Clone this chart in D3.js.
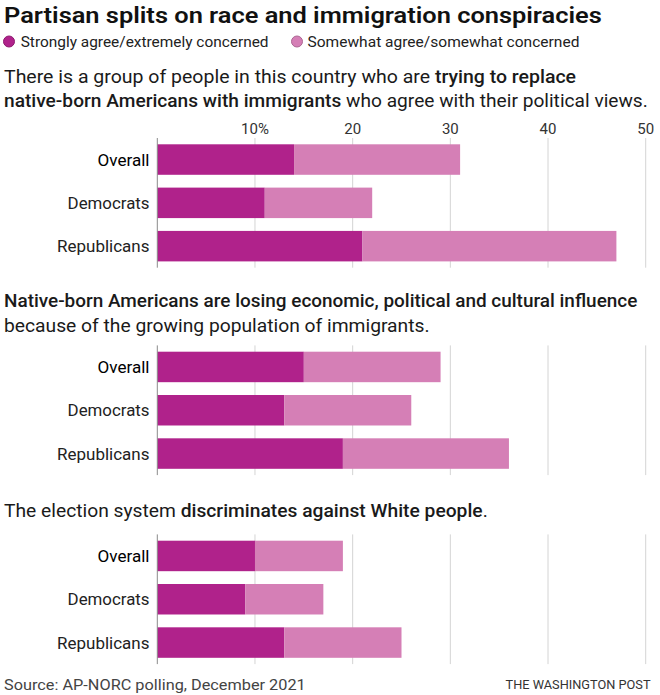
<!DOCTYPE html>
<html>
<head>
<meta charset="utf-8">
<script src="https://cdn.jsdelivr.net/npm/d3@7"></script>
<style>
  html, body { margin: 0; padding: 0; background: #fff; }
  svg text { font-family: Roboto, "Liberation Sans", "Noto Sans", sans-serif; }
</style>
</head>
<body>
<svg id="chart" width="660" height="695"></svg>
<script>
// ---------- data ----------
const categories = ["Overall", "Democrats", "Republicans"];
const seriesNames = ["Strongly agree/extremely concerned", "Somewhat agree/somewhat concerned"];

const strong1 = [14, 11, 21];
const somewhat1 = [17, 11, 26];
const strong2 = [15, 13, 19];
const somewhat2 = [14, 13, 17];
const strong3 = [10, 9, 13];
const somewhat3 = [9, 8, 12];

const tickValues = [10, 20, 30, 40, 50];
const tickLabels = ["10%", "20", "30", "40", "50"];

const titleText = "Partisan splits on race and immigration conspiracies";
const sourceText = "Source: AP-NORC polling, December 2021";
const creditText = "THE WASHINGTON POST";

// subtitle lines as [text, bold] segments
const sub1 = [
  [["There is a group of people in this country who are ", false], ["trying to replace", true]],
  [["native-born Americans with immigrants", true], [" who agree with their political views.", false]]
];
const sub2 = [
  [["Native-born Americans are losing economic, political and cultural influence", true]],
  [["because of the growing population of immigrants.", false]]
];
const sub3 = [
  [["The election system ", false], ["discriminates against White people", true], [".", false]]
];

// ---------- drawing ----------
const colors = ["#b0228b", "#d57fb6"];
const svg = d3.select("#chart");

const x = d3.scaleLinear().domain([0, 50]).range([157.3, 645.7]);

function fitText(parent, tx, ty, target, opts) {
  const t = parent.append("text")
    .attr("font-size", opts.size)
    .attr("fill", opts.color || "#222")
    .attr("font-weight", opts.weight || 400)
    .attr("text-anchor", opts.anchor || "start");
  if (typeof opts.segments === "string") {
    t.text(opts.segments);
  } else {
    opts.segments.forEach(s => {
      t.append("tspan").attr("font-weight", s[1] ? 500 : 400).text(s[0]);
    });
  }
  const w = t.node().getBBox().width;
  const k = target ? target / w : 1;
  t.attr("transform", `translate(${tx},${ty}) scale(${k},1)`);
  return t;
}

// title
fitText(svg, 4, 23, 598, { size: 22, weight: 600, color: "#111", segments: titleText });

// legend
const legendItems = [
  { cx: 9, tx: 20.7, w: 248, name: seriesNames[0], c: colors[0] },
  { cx: 297, tx: 307.5, w: 272, name: seriesNames[1], c: colors[1] }
];
legendItems.forEach(d => {
  svg.append("circle").attr("cx", d.cx).attr("cy", 41.5).attr("r", 5.5)
    .attr("fill", d.c).attr("stroke", d3.color(d.c).darker(0.6)).attr("stroke-width", 1);
  fitText(svg, d.tx, 46.5, d.w, { size: 15.5, color: "#222", segments: d.name });
});

// panels
const panels = [
  { strong: strong1, somewhat: somewhat1, sub: sub1, subY: [83, 107], subW: [573, 644], top: 144.3, ticks: true },
  { strong: strong2, somewhat: somewhat2, sub: sub2, subY: [307, 332], subW: [634, 426], top: 351.7, ticks: false },
  { strong: strong3, somewhat: somewhat3, sub: sub3, subY: [517], subW: [484], top: 540.7, ticks: false }
];

const catW = [52, 82, 92.5];

panels.forEach(p => {
  // subtitle
  p.sub.forEach((line, i) => {
    fitText(svg, 4, p.subY[i], p.subW[i], { size: 18, color: "#1a1a1a", segments: line });
  });

  const y = d3.scaleBand().domain(categories)
    .range([p.top, p.top + 117.1]).paddingInner(0.296).paddingOuter(0);

  const gTop = p.top - 6.3, gBot = p.top + 117.1 + 6.3;

  // gridlines
  svg.append("g").selectAll("line").data(tickValues).join("line")
    .attr("x1", d => x(d)).attr("x2", d => x(d))
    .attr("y1", gTop).attr("y2", gBot)
    .attr("stroke", "#d4d4d4").attr("stroke-width", 1);

  // tick labels
  if (p.ticks) {
    tickValues.forEach((v, i) => {
      svg.append("text").attr("x", x(v)).attr("y", 133.5)
        .attr("text-anchor", "middle").attr("font-size", 15).attr("fill", "#333")
        .text(tickLabels[i]);
    });
  }

  // stacked bars
  const rows = categories.map((c, i) => ({ cat: c, a: p.strong[i], b: p.somewhat[i] }));
  const g = svg.append("g");
  g.selectAll("rect.s").data(rows).join("rect").attr("class", "s")
    .attr("x", x(0)).attr("y", d => y(d.cat))
    .attr("width", d => x(d.a) - x(0)).attr("height", y.bandwidth())
    .attr("fill", colors[0]);
  g.selectAll("rect.w").data(rows).join("rect").attr("class", "w")
    .attr("x", d => x(d.a)).attr("y", d => y(d.cat))
    .attr("width", d => x(d.a + d.b) - x(d.a)).attr("height", y.bandwidth())
    .attr("fill", colors[1]);

  // baseline
  svg.append("line").attr("x1", x(0)).attr("x2", x(0))
    .attr("y1", gTop).attr("y2", gBot).attr("stroke", "#8a8a8a").attr("stroke-width", 1);

  // category labels
  categories.forEach((c, i) => {
    fitText(svg, 149.5, y(c) + y.bandwidth() / 2 + 6, catW[i], {
      size: 16.5, anchor: "end", weight: 400,
      color: i === 0 ? "#000" : "#222", segments: c
    });
  });
});

// footer
fitText(svg, 4, 689.5, 302, { size: 15.5, color: "#444", segments: sourceText });
fitText(svg, 650.5, 689, 145.5, { size: 12.5, color: "#333", anchor: "end", segments: creditText });
</script>
</body>
</html>
